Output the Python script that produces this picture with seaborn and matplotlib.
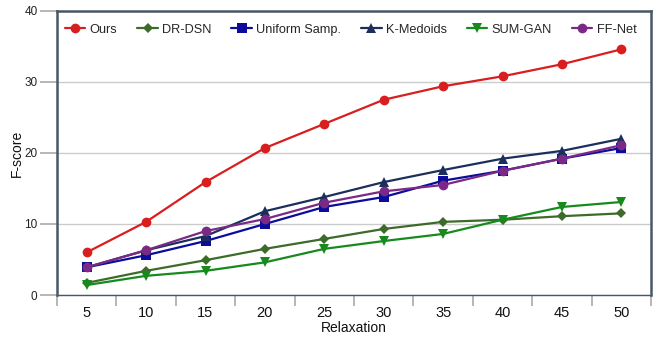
import matplotlib
matplotlib.use("Agg")
import matplotlib.pyplot as plt
import seaborn as sns
import pandas as pd
import numpy as np

relaxation = [5, 10, 15, 20, 25, 30, 35, 40, 45, 50]
ours = [6.0, 10.3, 15.9, 20.7, 24.1, 27.5, 29.4, 30.8, 32.5, 34.6]
dr_dsn = [1.7, 3.4, 4.9, 6.5, 7.9, 9.3, 10.3, 10.6, 11.1, 11.5]
uniform = [3.9, 5.6, 7.6, 10.0, 12.4, 13.8, 16.1, 17.5, 19.2, 20.7]
kmedoids = [3.9, 6.3, 8.3, 11.8, 13.8, 15.9, 17.6, 19.2, 20.3, 22.0]
sumgan = [1.4, 2.7, 3.4, 4.6, 6.5, 7.6, 8.6, 10.6, 12.4, 13.1]
ffnet = [3.9, 6.3, 9.0, 10.7, 13.0, 14.6, 15.5, 17.5, 19.2, 21.1]

methods = ["Ours", "DR-DSN", "Uniform Samp.", "K-Medoids", "SUM-GAN", "FF-Net"]
series = [ours, dr_dsn, uniform, kmedoids, sumgan, ffnet]
colors = ["#d81e1e", "#3d6b2a", "#0c0c9c", "#1c2f5c", "#178a1e", "#7a2a86"]
markers = ["o", "D", "s", "^", "v", "o"]
msizes = [7, 5, 7, 7, 7, 7]

rows = []
for m, vals in zip(methods, series):
    for x, v in zip(relaxation, vals):
        rows.append({"Relaxation": x, "F-score": v, "Method": m})
df = pd.DataFrame(rows)

sns.set_theme(style="white")
plt.rcParams["font.family"] = ["Liberation Sans", "DejaVu Sans"]

fig = plt.figure(figsize=(6.58, 3.39), dpi=100)
ax = fig.add_axes([57 / 658, 1 - 295 / 339, 594 / 658, 284 / 339])

for m, c, mk, ms in zip(methods, colors, markers, msizes):
    sub = df[df["Method"] == m]
    sns.lineplot(data=sub, x="Relaxation", y="F-score", ax=ax, color=c,
                 marker=mk, markersize=ms, markeredgewidth=0, linewidth=1.6,
                 label=m, legend=False)

ax.set_xlim(2.5, 52.5)
ax.set_ylim(0, 40)
ax.set_yticks([0, 10, 20, 30, 40])
ax.set_xticks(relaxation)
ax.set_xticks(np.arange(2.5, 53, 5), minor=True)
ax.yaxis.grid(True, color="#cccccc", linewidth=1)
ax.set_axisbelow(True)

for s in ["left", "top", "right"]:
    ax.spines[s].set_color("#4a5866")
    ax.spines[s].set_linewidth(1.8)
ax.spines["bottom"].set_color("#4a5866")
ax.spines["bottom"].set_linewidth(1.0)

ax.tick_params(axis="y", which="major", left=True, length=12, width=1.2,
               color="#aaaaaa", labelsize=8.5, pad=2, labelcolor="#222222")
ax.tick_params(axis="x", which="major", bottom=False, length=0, labelsize=10.5,
               pad=8, labelcolor="#111111")
ax.tick_params(axis="x", which="minor", bottom=True, length=8, width=1.2,
               color="#aaaaaa")

ax.set_xlabel("Relaxation", fontsize=10, color="#111111")
ax.set_ylabel("F-score", fontsize=10, color="#111111")
ax.xaxis.set_label_coords(0.5, -(328 - 295) / 284, transform=ax.transAxes)
ax.yaxis.set_label_coords(-(57 - 17) / 594, 0.5, transform=ax.transAxes)
ax.xaxis.label.set_va("center")
ax.yaxis.label.set_va("center")

handles, labels = ax.get_legend_handles_labels()
leg = ax.legend(handles, labels, loc="upper left", ncol=6, frameon=False,
                fontsize=9.2, bbox_to_anchor=(-0.006, 0.995),
                handlelength=1.6, handletextpad=0.35, columnspacing=1.55)

fig.savefig("out.png", dpi=100)
